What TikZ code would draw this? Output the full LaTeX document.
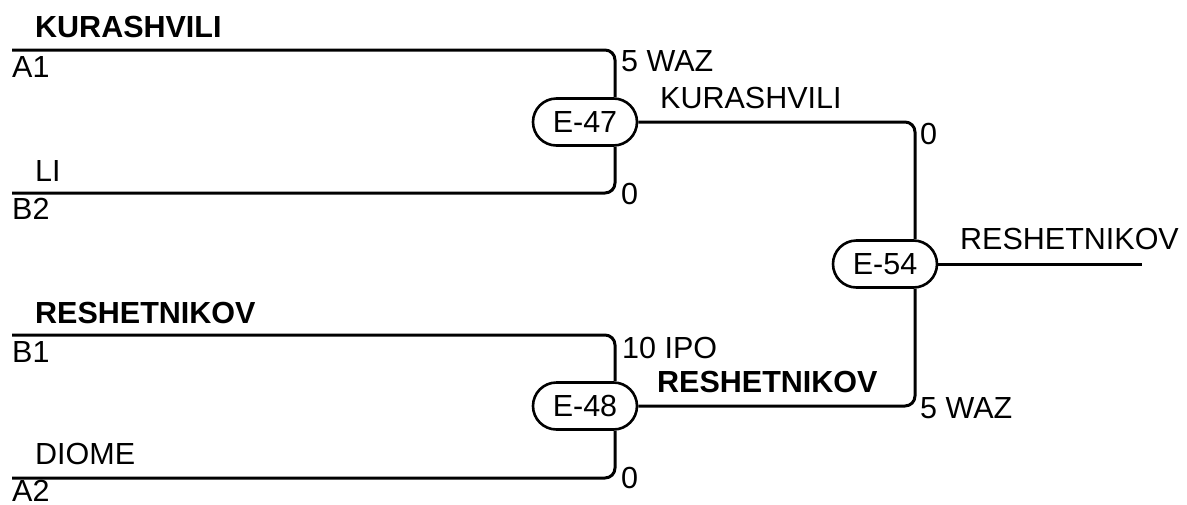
\documentclass[tikz,border=0pt]{standalone}
\usepackage{fontspec}
\setmainfont{Liberation Sans}
\usetikzlibrary{shapes.misc}
\tikzset{
  match/.style={draw, rounded rectangle, line width=2.6pt, minimum width=104pt, minimum height=47pt, inner sep=0pt, font=\fontsize{30.5}{34}\selectfont},
  wire/.style={line width=3pt, rounded corners=10pt},
  lbl/.style={anchor=base west, inner sep=0pt, font=\fontsize{30.5}{34}\selectfont},
  winner/.style={lbl, font=\fontsize{30.5}{34}\selectfont\bfseries},
}
\begin{document}
\begin{tikzpicture}[x=1pt,y=-1pt]
\useasboundingbox (0,0) rectangle (1187,504);
\node[match] (e47) at (585,122) {E-47};
\node[match] (e48) at (585,406) {E-48};
\node[match] (e54) at (885,264) {E-54};
\coordinate (a1) at (12,50);
\coordinate (b2) at (12,193);
\coordinate (b1) at (12,335);
\coordinate (a2) at (12,478);
\coordinate (final) at (1142,264);
\draw[wire] (a1) -| ([xshift=30pt]e47.north);
\draw[wire] (b2) -| ([xshift=30pt]e47.south);
\draw[wire] (b1) -| ([xshift=30pt]e48.north);
\draw[wire] (a2) -| ([xshift=30pt]e48.south);
\draw[wire] (e47.east) -| ([xshift=30pt]e54.north);
\draw[wire] (e48.east) -| ([xshift=30pt]e54.south);
\draw[wire] (e54.east) -- (final);
\node[winner] (kur) at (35,37) {KURASHVILI};
\node[lbl] (seeda1) at (12,77) {A1};
\node[lbl] (li) at (35,181) {LI};
\node[lbl] (seedb2) at (12,219) {B2};
\node[winner] (res) at (35,323) {RESHETNIKOV};
\node[lbl] (seedb1) at (12,362) {B1};
\node[lbl] (dio) at (35,464) {DIOME};
\node[lbl] (seeda2) at (12,501) {A2};
\node[lbl] (sc47a) at (621,71) {5 WAZ};
\node[lbl] (sc47b) at (621,204) {0};
\node[lbl] (win47) at (660,108) {KURASHVILI};
\node[lbl] (sc48a) at (622,358) {10 IPO};
\node[lbl] (sc48b) at (621,488) {0};
\node[winner] (win48) at (657,392) {RESHETNIKOV};
\node[lbl] (sc54a) at (920,144) {0};
\node[lbl] (sc54b) at (920,418) {5 WAZ};
\node[lbl] (win54) at (960,249) {RESHETNIKOV};
\end{tikzpicture}
\end{document}
